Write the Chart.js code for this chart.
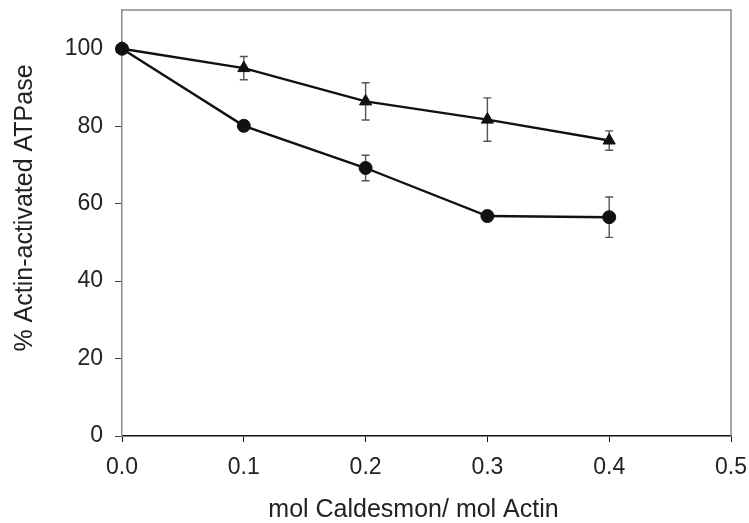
<!DOCTYPE html>
<html>
<head>
<meta charset="utf-8">
<script src="https://cdn.jsdelivr.net/npm/chart.js@4/dist/chart.umd.min.js"></script>
<style>
  html, body { margin: 0; padding: 0; background: #fff; }
  #wrap { width: 749px; height: 523px; }
</style>
</head>
<body>
<div id="wrap"><canvas id="c" width="749" height="523"></canvas></div>
<script>
// ---- data ----
const xValues = [0, 0.1, 0.2, 0.3, 0.4];
const triangleMeans = [100, 95, 86.4, 81.7, 76.3];
const triangleErr = [0, 3, 4.8, 5.6, 2.5];
const circleMeans = [100, 80.1, 69.2, 56.8, 56.5];
const circleErr = [0, 1, 3.3, 1.2, 5.2];
const xTickValues = [0, 0.1, 0.2, 0.3, 0.4, 0.5];
const yTickValues = [0, 20, 40, 60, 80, 100];
const xTitle = 'mol Caldesmon/ mol Actin';
const yTitle = '% Actin-activated ATPase';

const FONT = '"Liberation Sans", Arial, sans-serif';
const TEXT = '#222';
const FRAME = '#8a8a8a';

const toPoints = (ys) => xValues.map((x, i) => ({ x: x, y: ys[i] }));

const errorBars = {
  id: 'errorBars',
  beforeDatasetsDraw(chart) {
    const ctx = chart.ctx;
    const xs = chart.scales.x, ys = chart.scales.y;
    const a = chart.chartArea;
    ctx.save();
    ctx.strokeStyle = FRAME;
    ctx.lineWidth = 1.5;
    ctx.beginPath();
    ctx.moveTo(a.left, a.top);
    ctx.lineTo(a.right, a.top);
    ctx.lineTo(a.right, a.bottom);
    ctx.stroke();
    ctx.restore();
    ctx.save();
    ctx.strokeStyle = '#555';
    ctx.lineWidth = 1.4;
    chart.data.datasets.forEach((ds) => {
      const errs = ds.errors;
      ds.data.forEach((p, i) => {
        const e = errs[i];
        if (!e) return;
        const px = xs.getPixelForValue(p.x);
        const top = ys.getPixelForValue(p.y + e);
        const bot = ys.getPixelForValue(p.y - e);
        ctx.beginPath();
        ctx.moveTo(px, top); ctx.lineTo(px, bot);
        ctx.moveTo(px - 4, top); ctx.lineTo(px + 4, top);
        ctx.moveTo(px - 4, bot); ctx.lineTo(px + 4, bot);
        ctx.stroke();
      });
    });
    ctx.restore();
  },
  afterDraw(chart) {
    const ctx = chart.ctx;
    const a = chart.chartArea;
    ctx.save();
    ctx.fillStyle = TEXT;
    ctx.font = '25px ' + FONT;
    ctx.textAlign = 'center';
    ctx.textBaseline = 'alphabetic';
    ctx.fillText(xTitle, (a.left + a.right) / 2 - 13, 517);
    ctx.translate(32, (a.top + a.bottom) / 2 - 15);
    ctx.rotate(-Math.PI / 2);
    ctx.fillText(yTitle, 0, 0);
    ctx.restore();
  }
};

new Chart(document.getElementById('c'), {
  type: 'scatter',
  data: {
    datasets: [
      {
        label: 'triangles',
        data: toPoints(triangleMeans),
        errors: triangleErr,
        showLine: true,
        borderColor: '#111',
        backgroundColor: '#111',
        borderWidth: 2.4,
        pointStyle: 'triangle',
        pointRadius: 7,
        pointBorderWidth: 1,
        order: 2
      },
      {
        label: 'circles',
        data: toPoints(circleMeans),
        errors: circleErr,
        showLine: true,
        borderColor: '#111',
        backgroundColor: '#111',
        borderWidth: 2.4,
        pointStyle: 'circle',
        pointRadius: 6.5,
        pointBorderWidth: 1,
        order: 1
      }
    ]
  },
  options: {
    responsive: false,
    animation: false,
    clip: false,
    layout: { padding: { top: 10, right: 18, left: 0, bottom: 0 } },
    plugins: { legend: { display: false }, tooltip: { enabled: false } },
    scales: {
      x: {
        type: 'linear',
        min: 0, max: 0.5,
        afterBuildTicks(s) { s.ticks = xTickValues.map(v => ({ value: v })); },
        afterFit(s) { s.height = 87; s.paddingLeft = 0; s.paddingRight = 0; },
        border: { display: true, color: '#111', width: 1.5 },
        grid: { drawOnChartArea: false, drawTicks: true, tickLength: 6, color: '#111', tickWidth: 1 },
        ticks: {
          padding: 12,
          color: TEXT,
          font: { family: FONT, size: 23 },
          maxRotation: 0,
          callback: (v) => Number(v).toFixed(1)
        }
      },
      y: {
        type: 'linear',
        min: 0, max: 110,
        afterBuildTicks(s) { s.ticks = yTickValues.map(v => ({ value: v })); },
        afterFit(s) { s.width = 122; s.paddingTop = 0; s.paddingBottom = 0; },
        border: { display: true, color: FRAME, width: 1.5 },
        grid: { drawOnChartArea: false, drawTicks: true, tickLength: 7, color: '#444', tickWidth: 1 },
        ticks: {
          padding: 12,
          color: TEXT,
          font: { family: FONT, size: 23 }
        }
      }
    }
  },
  plugins: [errorBars]
});
</script>
</body>
</html>
